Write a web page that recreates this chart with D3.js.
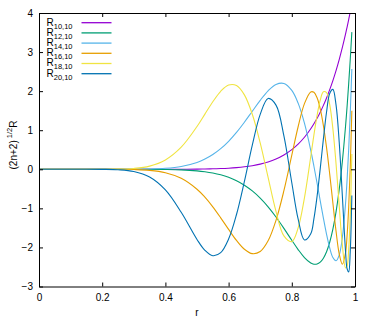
<!DOCTYPE html>
<html>
<head>
<meta charset="utf-8">
<script src="https://cdn.jsdelivr.net/npm/d3@7"></script>
<style>
  body { margin: 0; background: #fff; }
  text { font-family: "Liberation Sans", Arial, sans-serif; fill: #000; }
</style>
</head>
<body>
<div id="chart"></div>
<script>
// sample radii
const rValues = [0, 0.1, 0.2, 0.25, 0.3, 0.35, 0.4, 0.45, 0.5, 0.525, 0.55, 0.575, 0.6, 0.625, 0.65, 0.675, 0.7, 0.725, 0.75, 0.775, 0.8, 0.82, 0.84, 0.86, 0.87, 0.88, 0.89, 0.9, 0.91, 0.92, 0.93, 0.94, 0.95, 0.96, 0.97, 0.975, 0.98, 0.985, 0.99];

// (2n+2)^1/2 R_{n,10}(r)
const r10_10 = [0, 0, 0, 0, 0, 0.0001, 0.0005, 0.0016, 0.0046, 0.0075, 0.0119, 0.0185, 0.0284, 0.0427, 0.0631, 0.0921, 0.1325, 0.1882, 0.2641, 0.3666, 0.5036, 0.6447, 0.8204, 1.0380, 1.1652, 1.3063, 1.4626, 1.6354, 1.8265, 2.0375, 2.2701, 2.5263, 2.8083, 3.1183, 3.4588, 3.6413, 3.8324, 4.0325, 4.2419];
const r12_10 = [0, 0, 0, 0, -0.0003, -0.0013, -0.0049, -0.0149, -0.0398, -0.0624, -0.0952, -0.1417, -0.2060, -0.2927, -0.4071, -0.5539, -0.7375, -0.9600, -1.2204, -1.5116, -1.8177, -2.0543, -2.2588, -2.3976, -2.4286, -2.4244, -2.3767, -2.2757, -2.1103, -1.8677, -1.5330, -1.0898, -0.5190, 0.2007, 1.0934, 1.6131, 2.1864, 2.8175, 3.5102];
const r14_10 = [0, 0, 0, 0, 0.0017, 0.0073, 0.0249, 0.0711, 0.1748, 0.2606, 0.3765, 0.5273, 0.7165, 0.9439, 1.2044, 1.4856, 1.7652, 2.0095, 2.1724, 2.1967, 2.0193, 1.6929, 1.1809, 0.4850, 0.0779, -0.3571, -0.8064, -1.2507, -1.6645, -2.0144, -2.2576, -2.3408, -2.1970, -1.7445, -0.8835, -0.2632, 0.5062, 1.4435, 2.5690];
const r16_10 = [0, 0, 0, -0.0012, -0.0068, -0.0276, -0.0880, -0.2307, -0.5100, -0.7141, -0.9611, -1.2424, -1.5393, -1.8212, -2.0454, -2.1589, -2.1039, -1.8293, -1.3057, -0.5485, 0.3611, 1.0886, 1.6804, 1.9804, 1.9704, 1.8300, 1.5476, 1.1192, 0.5535, -0.1236, -0.8627, -1.5831, -2.1631, -2.4287, -2.1395, -1.6895, -0.9719, 0.0699, 1.5005];
const r18_10 = [0, 0, 0, 0.0041, 0.0215, 0.0815, 0.2391, 0.5651, 1.0938, 1.4120, 1.7285, 1.9965, 2.1568, 2.1449, 1.9050, 1.4085, 0.6749, -0.2080, -1.0775, -1.7057, -1.8507, -1.5004, -0.7308, 0.3273, 0.8793, 1.3804, 1.7703, 1.9846, 1.9617, 1.6529, 1.0375, 0.1437, -0.9228, -1.9410, -2.5244, -2.4715, -2.0565, -1.1530, 0.3912];
const r20_10 = [0, 0, -0.0015, -0.0115, -0.0566, -0.1987, -0.5289, -1.1009, -1.7956, -2.0736, -2.2110, -2.1328, -1.7847, -1.1571, -0.3097, 0.6156, 1.4047, 1.8122, 1.6424, 0.8534, -0.3439, -1.2716, -1.8092, -1.6505, -1.2641, -0.6910, 0.0178, 0.7769, 1.4667, 1.9409, 2.0444, 1.6470, 0.6988, -0.6836, -2.0882, -2.5461, -2.6257, -2.0994, -0.6726];

const seriesNames = ["10,10", "12,10", "14,10", "16,10", "18,10", "20,10"];
const seriesValues = [r10_10, r12_10, r14_10, r16_10, r18_10, r20_10];
const colors = ["#9400d3", "#009e73", "#56b4e9", "#e69f00", "#f0e442", "#0072b2"];

const xTicks = [0, 0.2, 0.4, 0.6, 0.8, 1];
const yTicks = [-3, -2, -1, 0, 1, 2, 3, 4];

const width = 374, height = 320;
const margin = { top: 13, right: 19, bottom: 33.5, left: 39 };
const innerW = width - margin.left - margin.right;
const innerH = height - margin.top - margin.bottom;

const svg = d3.select("#chart").append("svg")
  .attr("width", width)
  .attr("height", height);

const g = svg.append("g")
  .attr("transform", `translate(${margin.left},${margin.top})`);

const x = d3.scaleLinear().domain([0, 1]).range([0, innerW]);
const y = d3.scaleLinear().domain([-3, 4]).range([innerH, 0]);

svg.append("defs").append("clipPath").attr("id", "plot-clip")
  .append("rect").attr("width", innerW).attr("height", innerH);

// curves
const line = d3.line()
  .x(d => x(d[0]))
  .y(d => y(d[1]))
  .curve(d3.curveCatmullRom.alpha(0.5));

const curves = g.append("g").attr("clip-path", "url(#plot-clip)");
seriesValues.forEach((vals, i) => {
  curves.append("path")
    .datum(rValues.map((r, j) => [r, vals[j]]))
    .attr("fill", "none")
    .attr("stroke", colors[i])
    .attr("stroke-width", 1.1)
    .attr("d", line);
});

// axes, ticks inward on all four sides
function styleAxis(sel) {
  sel.select(".domain").attr("stroke", "#000").attr("stroke-width", 1);
  sel.selectAll(".tick line").attr("stroke", "#000");
  sel.selectAll("text")
    .style("font-family", "'Liberation Sans', Arial, sans-serif")
    .style("font-size", "10px")
    .attr("fill", "#000");
}

g.append("g")
  .attr("transform", `translate(0,${innerH})`)
  .call(d3.axisBottom(x).tickValues(xTicks).tickFormat(d3.format("")).tickSizeInner(-4).tickSizeOuter(0).tickPadding(7))
  .call(styleAxis);

g.append("g")
  .call(d3.axisTop(x).tickValues(xTicks).tickFormat("").tickSizeInner(-4).tickSizeOuter(0))
  .call(styleAxis);

g.append("g")
  .call(d3.axisLeft(y).tickValues(yTicks).tickFormat(d3.format("")).tickSizeInner(-4).tickSizeOuter(0).tickPadding(6))
  .call(styleAxis);

g.append("g")
  .attr("transform", `translate(${innerW},0)`)
  .call(d3.axisRight(y).tickValues(yTicks).tickFormat("").tickSizeInner(-4).tickSizeOuter(0))
  .call(styleAxis);

// axis titles
svg.append("text")
  .attr("x", 197)
  .attr("y", 316)
  .attr("text-anchor", "middle")
  .style("font-size", "10px")
  .text("r");

const yl = svg.append("text")
  .attr("transform", "translate(16.5,145) rotate(-90)")
  .attr("text-anchor", "middle")
  .style("font-size", "10px");
yl.append("tspan").text("(2n+2)");
yl.append("tspan").attr("dy", -4.5).style("font-size", "7.5px").text(" 1/2");
yl.append("tspan").attr("dy", 4.5).text("R");

// legend
const legend = svg.append("g").attr("transform", "translate(46.5,22.7)");
seriesNames.forEach((name, i) => {
  const row = legend.append("g").attr("transform", `translate(0,${i * 10.2})`);
  const t = row.append("text").attr("x", 0).attr("y", 2.8).style("font-size", "10px");
  t.append("tspan").text("R");
  t.append("tspan").attr("dy", 3).style("font-size", "7.5px").text(name);
  row.append("line")
    .attr("x1", 35).attr("x2", 65)
    .attr("y1", 0).attr("y2", 0)
    .attr("stroke", colors[i])
    .attr("stroke-width", 1.3);
});
</script>
</body>
</html>
